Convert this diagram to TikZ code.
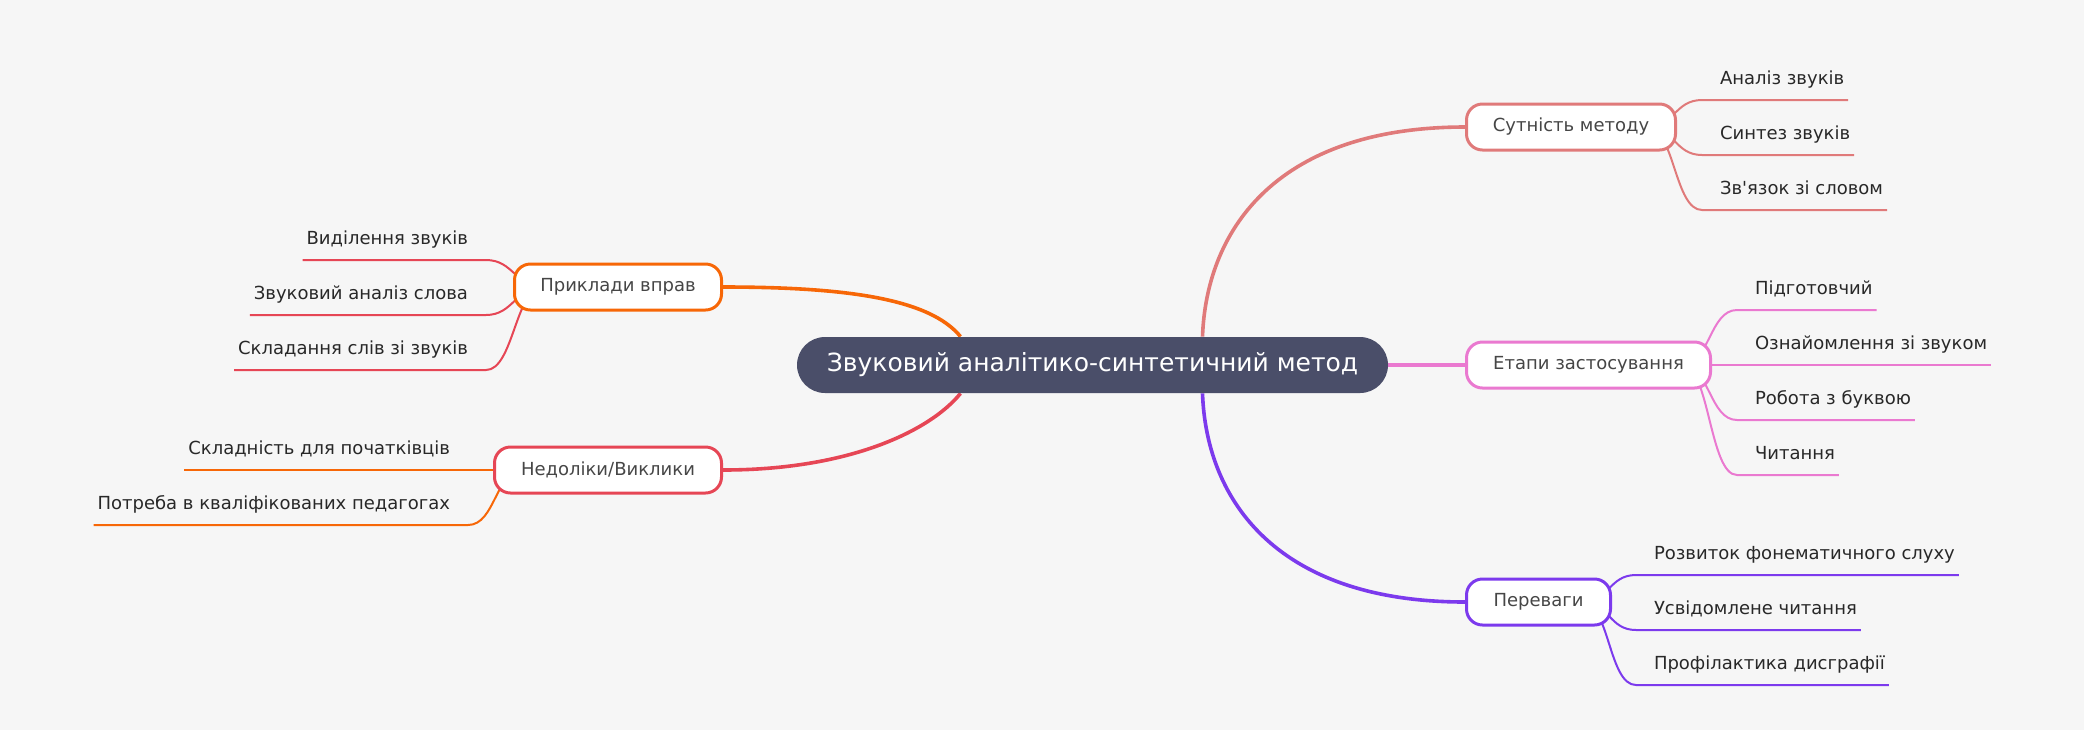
\documentclass[tikz,border=0pt]{standalone}
\usepackage{fontspec}
\setmainfont{DejaVu Sans}
\usepackage{color}
\definecolor{mybg}{RGB}{246,246,246}
\definecolor{myslate}{RGB}{74,78,105}
\definecolor{myrose}{RGB}{224,122,122}
\definecolor{mypink}{RGB}{234,121,208}
\definecolor{myviolet}{RGB}{124,58,237}
\definecolor{myorange}{RGB}{247,103,7}
\definecolor{myred}{RGB}{230,70,85}
\definecolor{mytext}{RGB}{40,40,40}
\definecolor{mylabel}{RGB}{70,70,70}
\usepackage{tikz}
\usetikzlibrary{calc,positioning}
\pgfdeclarelayer{paper}
\pgfdeclarelayer{links}
\pgfsetlayers{paper,links,main}
\tikzstyle{root}=[fill=myslate,text=white,rounded corners=14pt,minimum width=295.5pt,minimum height=28pt,inner sep=0pt,font=\fontsize{12.5}{15}\selectfont]
\tikzstyle{topic}=[draw,fill=white,line width=1.5pt,rounded corners=8pt,minimum height=23pt,inner sep=0pt,text=mylabel,font=\fontsize{9}{11}\selectfont]
\tikzstyle{leaf}=[inner xsep=0pt,inner ysep=8pt,outer sep=0pt,text depth=0pt,text=mytext,font=\fontsize{9}{11}\selectfont]
\tikzstyle{trunk}=[line width=1.8pt]
\tikzstyle{twig}=[line width=1pt]

\begin{document}
\begin{tikzpicture}[x=0.5pt,y=-0.5pt]
\begin{pgfonlayer}{paper}
\fill[mybg] (0,0) rectangle (2084,730);
\end{pgfonlayer}
\useasboundingbox (0,0) rectangle (2084,730);
\draw (1092.5, 365) node [root] (cen) {Звуковий аналітико-синтетичний метод};
\draw (1465, 127) node [topic, anchor=west, draw=myrose, minimum width=104.5pt] (sut) {Сутність методу};
\draw (1465, 365) node [topic, anchor=west, draw=mypink, minimum width=122pt] (eta) {Етапи застосування};
\draw (1465, 602) node [topic, anchor=west, draw=myviolet, minimum width=72pt] (per) {Переваги};
\draw (723, 287) node [topic, anchor=east, draw=myorange, minimum width=103.5pt] (pri) {Приклади вправ};
\draw (723, 470) node [topic, anchor=east, draw=myred, minimum width=113.5pt] (ned) {Недоліки/Виклики};
% right leaves
\draw (1720, 100) node [leaf, anchor=south west] (a1) {Аналіз звуків};
\draw (1720, 155) node [leaf, anchor=south west] (a2) {Синтез звуків};
\draw (1720, 210) node [leaf, anchor=south west] (a3) {Зв\textquotesingle язок зі словом};
\draw (1755, 310) node [leaf, anchor=south west] (e1) {Підготовчий};
\draw (1755, 365) node [leaf, anchor=south west] (e2) {Ознайомлення зі звуком};
\draw (1755, 420) node [leaf, anchor=south west] (e3) {Робота з буквою};
\draw (1755, 475) node [leaf, anchor=south west] (e4) {Читання};
\draw (1654, 575) node [leaf, anchor=south west] (v1) {Розвиток фонематичного слуху};
\draw (1654, 630) node [leaf, anchor=south west] (v2) {Усвідомлене читання};
\draw (1654, 685) node [leaf, anchor=south west] (v3) {Профілактика дисграфії};
% left leaves
\draw (468, 260) node [leaf, anchor=south east] (p1) {Виділення звуків};
\draw (468, 315) node [leaf, anchor=south east] (p2) {Звуковий аналіз слова};
\draw (468, 370) node [leaf, anchor=south east] (p3) {Складання слів зі звуків};
\draw (450, 470) node [leaf, anchor=south east] (n1) {Складність для початківців};
\draw (450, 525) node [leaf, anchor=south east] (n2) {Потреба в кваліфікованих педагогах};
\begin{pgfonlayer}{links}
\draw[trunk, myrose] ([xshift=55pt]cen.north) .. controls +(4,-110) and +(-185,0) .. (sut.west);
\draw[trunk, mypink] (cen.east) -- (eta.west);
\draw[trunk, myviolet] ([xshift=55pt]cen.south) .. controls +(4,110) and +(-185,0) .. (per.west);
\draw[trunk, myorange] (pri.east) .. controls +(127,0) and +(-30,-37) .. ([xshift=-66pt]cen.north);
\draw[trunk, myred] (ned.east) .. controls +(127,0) and +(-30,37) .. ([xshift=-66pt]cen.south);
\draw[twig, myrose] ([xshift=-15pt]sut.east) .. controls +(27.5,0) and +(-27.5,0) .. ([xshift=-9pt]a1.south west) -- ([xshift=2pt]a1.south east);
\draw[twig, myrose] ([xshift=-15pt]sut.east) .. controls +(27.5,0) and +(-27.5,0) .. ([xshift=-9pt]a2.south west) -- ([xshift=2pt]a2.south east);
\draw[twig, myrose] ([xshift=-15pt]sut.east) .. controls +(27.5,0) and +(-27.5,0) .. ([xshift=-9pt]a3.south west) -- ([xshift=2pt]a3.south east);
\draw[twig, mypink] ([xshift=-15pt]eta.east) .. controls +(27.5,0) and +(-27.5,0) .. ([xshift=-9pt]e1.south west) -- ([xshift=2pt]e1.south east);
\draw[twig, mypink] ([xshift=-15pt]eta.east) .. controls +(27.5,0) and +(-27.5,0) .. ([xshift=-9pt]e2.south west) -- ([xshift=2pt]e2.south east);
\draw[twig, mypink] ([xshift=-15pt]eta.east) .. controls +(27.5,0) and +(-27.5,0) .. ([xshift=-9pt]e3.south west) -- ([xshift=2pt]e3.south east);
\draw[twig, mypink] ([xshift=-15pt]eta.east) .. controls +(27.5,0) and +(-27.5,0) .. ([xshift=-9pt]e4.south west) -- ([xshift=2pt]e4.south east);
\draw[twig, myviolet] ([xshift=-15pt]per.east) .. controls +(27.5,0) and +(-27.5,0) .. ([xshift=-9pt]v1.south west) -- ([xshift=2pt]v1.south east);
\draw[twig, myviolet] ([xshift=-15pt]per.east) .. controls +(27.5,0) and +(-27.5,0) .. ([xshift=-9pt]v2.south west) -- ([xshift=2pt]v2.south east);
\draw[twig, myviolet] ([xshift=-15pt]per.east) .. controls +(27.5,0) and +(-27.5,0) .. ([xshift=-9pt]v3.south west) -- ([xshift=2pt]v3.south east);
\draw[twig, myred] ([xshift=15pt]pri.west) .. controls +(-27.5,0) and +(27.5,0) .. ([xshift=9pt]p1.south east) -- ([xshift=-2pt]p1.south west);
\draw[twig, myred] ([xshift=15pt]pri.west) .. controls +(-27.5,0) and +(27.5,0) .. ([xshift=9pt]p2.south east) -- ([xshift=-2pt]p2.south west);
\draw[twig, myred] ([xshift=15pt]pri.west) .. controls +(-27.5,0) and +(27.5,0) .. ([xshift=9pt]p3.south east) -- ([xshift=-2pt]p3.south west);
\draw[twig, myorange] ([xshift=15pt]ned.west) .. controls +(-27.5,0) and +(27.5,0) .. ([xshift=9pt]n1.south east) -- ([xshift=-2pt]n1.south west);
\draw[twig, myorange] ([xshift=15pt]ned.west) .. controls +(-27.5,0) and +(27.5,0) .. ([xshift=9pt]n2.south east) -- ([xshift=-2pt]n2.south west);
\end{pgfonlayer}
\end{tikzpicture}
\end{document}
